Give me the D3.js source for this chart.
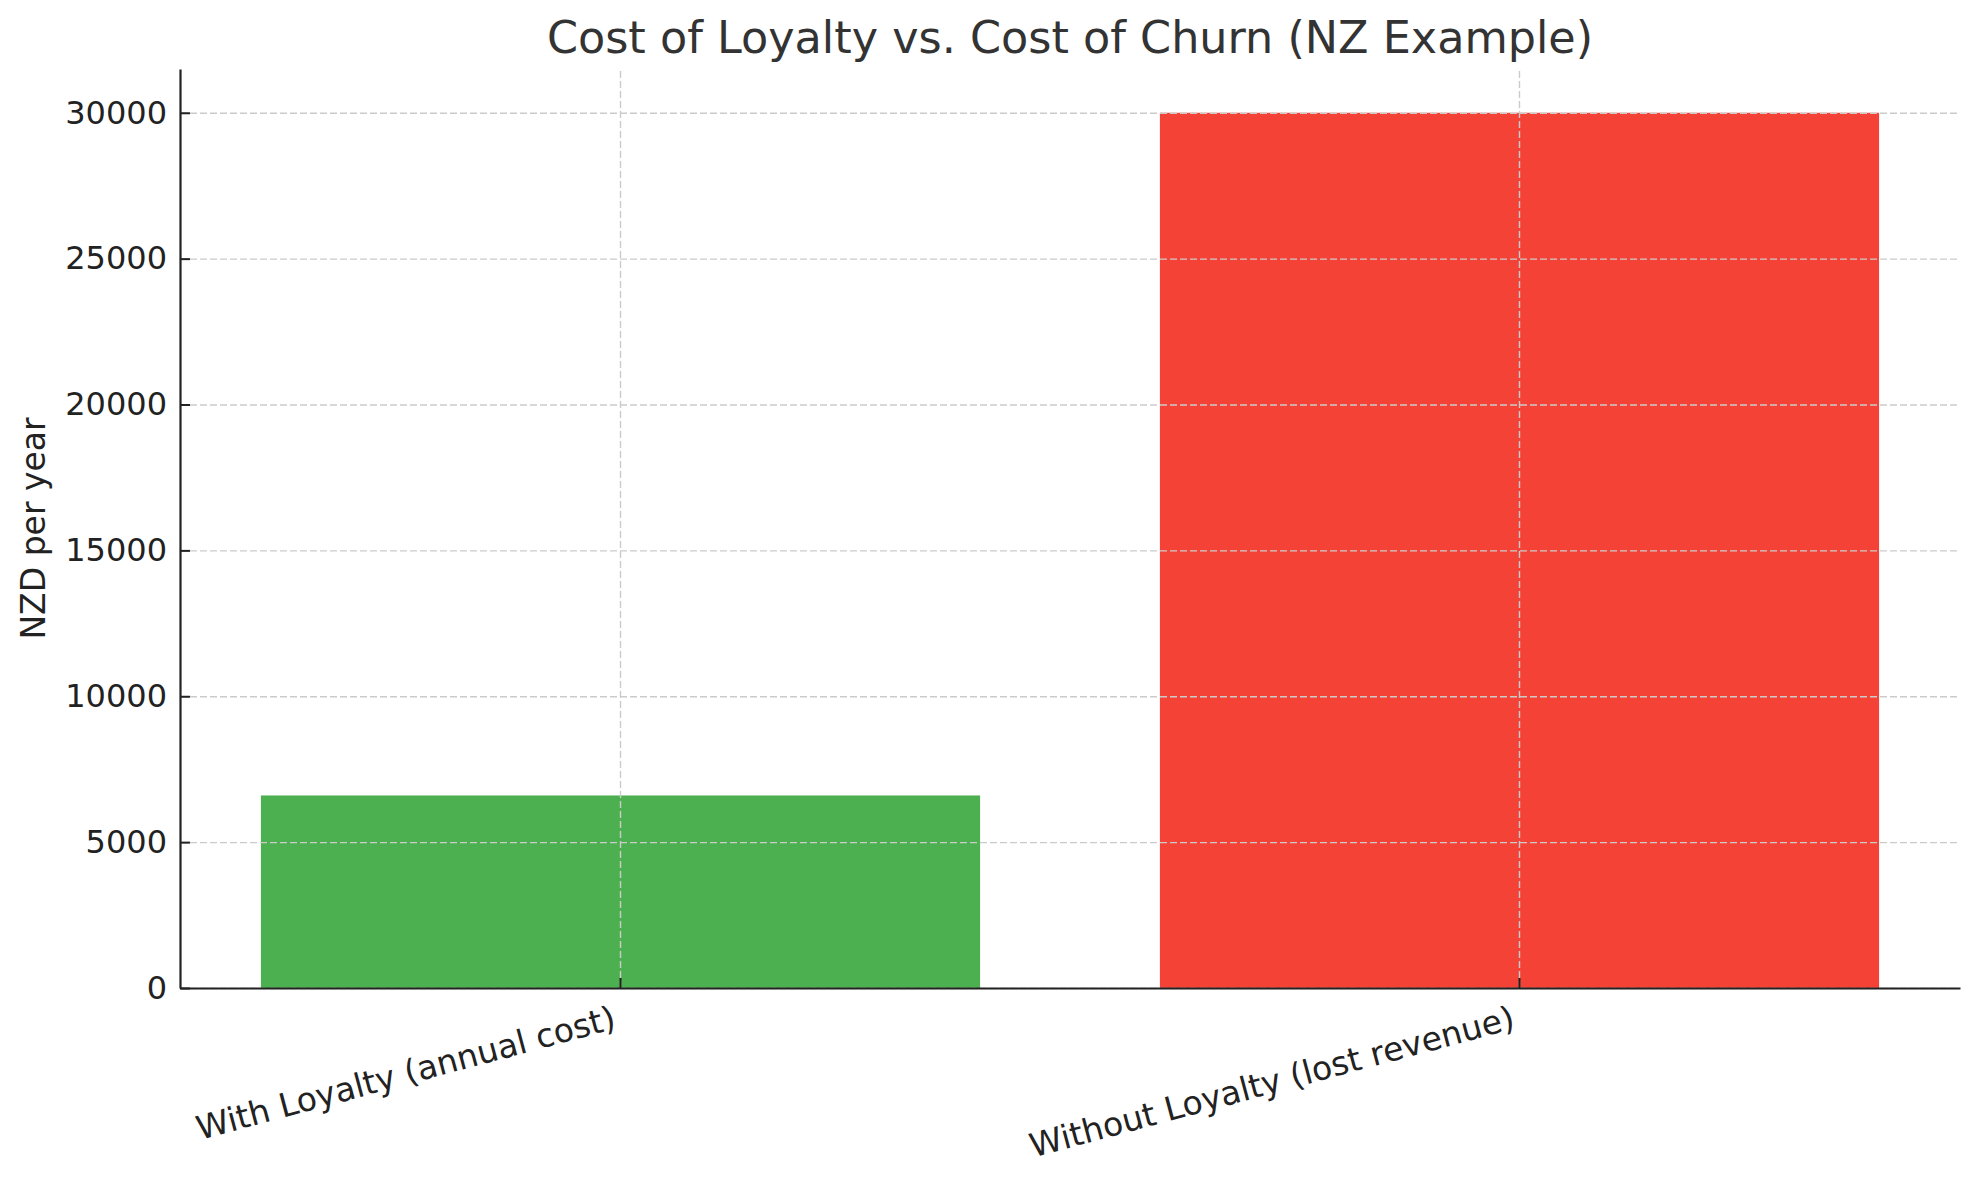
<!DOCTYPE html>
<html lang="en">

<head>
  <meta charset="UTF-8">
  <title>Cost of Loyalty vs. Cost of Churn</title>
  <style>
    body {
      margin: 0;
      background: #fff;
    }

    svg text {
      font-family: "DejaVu Sans", sans-serif;
    }
  </style>
</head>

<body>

  <script src="https://d3js.org/d3.v7.min.js"></script>

  <script>
    // data
    const categories = ["With Loyalty (annual cost)", "Without Loyalty (lost revenue)"];
    const values = [6600, 30000];
    const barColors = ["#4caf50", "#f44336"];
    const yTicks = [0, 5000, 10000, 15000, 20000, 25000, 30000];

    const width = 1979,
      height = 1180;
    const margin = { top: 69, right: 19, bottom: 192, left: 180 };

    const svg = d3.select("body")
      .append("svg")
      .attr("width", width)
      .attr("height", height)
      .attr("viewBox", [0, 0, width, height]);

    const x = d3.scaleBand()
      .domain(categories)
      .range([margin.left, width - margin.right])
      .paddingInner(0.2)
      .paddingOuter(0.09);

    const y = d3.scaleLinear()
      .domain([0, d3.max(values) * 1.05])
      .range([height - margin.bottom, margin.top]);

    // bars
    svg.append("g")
      .selectAll("rect")
      .data(categories)
      .join("rect")
      .attr("x", d => x(d))
      .attr("width", x.bandwidth())
      .attr("y", (d, i) => y(values[i]))
      .attr("height", (d, i) => y(0) - y(values[i]))
      .attr("fill", (d, i) => barColors[i]);

    // grid (drawn over the bars, like the original)
    const gridX = svg.append("g")
      .attr("transform", `translate(0,${height - margin.bottom})`)
      .call(d3.axisBottom(x).tickSize(-(height - margin.top - margin.bottom)).tickFormat(""));
    const gridY = svg.append("g")
      .attr("transform", `translate(${margin.left},0)`)
      .call(d3.axisLeft(y).tickValues(yTicks).tickSize(-(width - margin.left - margin.right)).tickFormat(""));
    for (let g of [gridX, gridY]) {
      g.select(".domain").remove();
      g.selectAll(".tick line")
        .attr("stroke", "#cbcbcb")
        .attr("stroke-width", 1.4)
        .attr("stroke-dasharray", "7,3");
    }

    // y axis
    const yAxis = svg.append("g")
      .attr("transform", `translate(${margin.left},0)`)
      .call(d3.axisLeft(y).tickValues(yTicks).tickFormat(d3.format("d"))
        .tickSize(-10).tickSizeOuter(0).tickPadding(13));
    yAxis.select(".domain").attr("stroke", "#222").attr("stroke-width", 2.2);
    yAxis.selectAll(".tick line").attr("stroke", "#222").attr("stroke-width", 2);
    yAxis.selectAll(".tick text")
      .attr("fill", "#222")
      .attr("font-size", 32);

    // x axis
    const xAxis = svg.append("g")
      .attr("transform", `translate(0,${height - margin.bottom})`)
      .call(d3.axisBottom(x).tickSize(-10).tickSizeOuter(0));
    xAxis.select(".domain").attr("stroke", "#222").attr("stroke-width", 2.2);
    xAxis.selectAll(".tick line").attr("stroke", "#222").attr("stroke-width", 2);
    xAxis.selectAll(".tick text")
      .attr("fill", "#222")
      .attr("font-size", 33)
      .attr("text-anchor", "end")
      .attr("x", 0)
      .attr("y", 0)
      .attr("dy", null)
      .attr("transform", "translate(-3,40) rotate(-15)");

    // y label
    svg.append("text")
      .attr("transform", `translate(45,${(margin.top + height - margin.bottom) / 2}) rotate(-90)`)
      .attr("text-anchor", "middle")
      .attr("fill", "#222")
      .attr("font-size", 33)
      .text("NZD per year");

    // title
    svg.append("text")
      .attr("x", (margin.left + width - margin.right) / 2)
      .attr("y", 53)
      .attr("text-anchor", "middle")
      .attr("fill", "#333")
      .attr("font-size", 44.5)
      .text("Cost of Loyalty vs. Cost of Churn (NZ Example)");
  </script>
</body>

</html>
